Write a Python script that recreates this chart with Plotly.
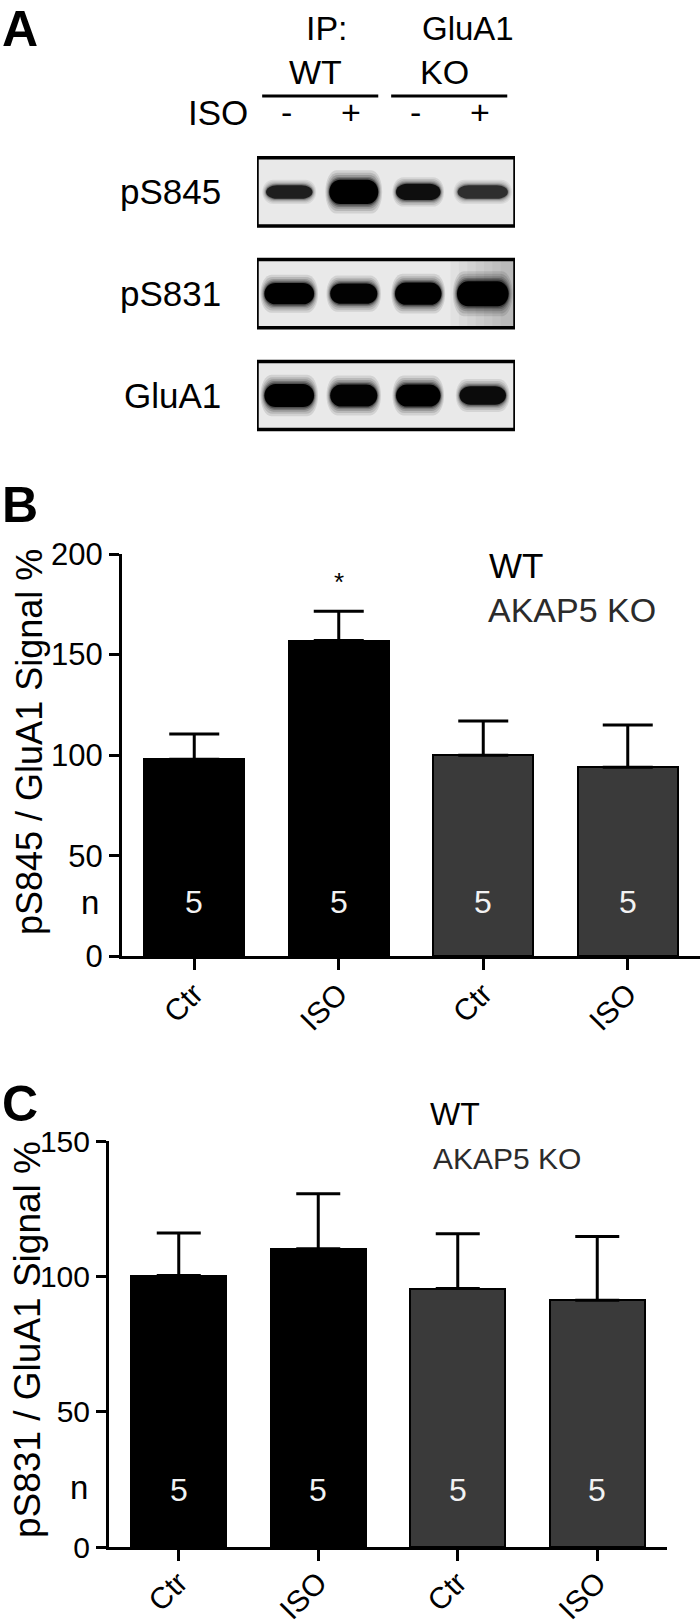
import plotly.graph_objects as go

W, H = 700, 1624

# ---------------- data ----------------
categories = ["Ctr", "ISO", "Ctr", "ISO"]
genotype = ["WT", "WT", "AKAP5 KO", "AKAP5 KO"]
b_mean = [98.0, 157.0, 100.0, 94.0]      # pS845 / GluA1 %
b_sem = [12.5, 14.5, 17.0, 21.0]
c_mean = [100.3, 110.2, 95.5, 91.2]      # pS831 / GluA1 %
c_sem = [15.7, 20.3, 20.2, 23.5]
n_vals = [5, 5, 5, 5]
b_sig = ["", "*", "", ""]
b_ticks = [0, 50, 100, 150, 200]
c_ticks = [0, 50, 100, 150]

# western blot (panel A)
blot_rows = ["pS845", "pS831", "GluA1"]
lane_iso = ["-", "+", "-", "+"]
lane_groups = ["WT", "KO"]
band_intensity = [[0.72, 1.00, 0.85, 0.62],
                  [1.00, 0.97, 1.00, 1.00],
                  [1.00, 0.97, 1.00, 0.88]]
band_width = [[0.72, 0.76, 0.69, 0.78],
              [0.77, 0.73, 0.72, 0.80],
              [0.77, 0.73, 0.69, 0.72]]
band_height = [[0.14, 0.25, 0.17, 0.14],
               [0.22, 0.21, 0.23, 0.26],
               [0.24, 0.23, 0.23, 0.19]]

FONT = "Liberation Sans, Arial, sans-serif"
WT_COL = "#000000"
KO_COL = "#3a3a3a"
bar_colors = [WT_COL if g == "WT" else KO_COL for g in genotype]
xs = list(range(len(categories)))


def px(x):
    return x / W


def py(y):
    return 1 - y / H


fig = go.Figure()

# ---------------- panel B ----------------
fig.add_trace(go.Bar(
    x=xs, y=b_mean, width=0.69, xaxis="x", yaxis="y",
    marker=dict(color=bar_colors, line=dict(color="black", width=2)),
    error_y=dict(type="data", array=b_sem, arrayminus=[0] * 4, symmetric=False,
                 color="black", thickness=3, width=25),
    showlegend=False, hoverinfo="skip"))

# ---------------- panel C ----------------
fig.add_trace(go.Bar(
    x=xs, y=c_mean, width=0.68, xaxis="x2", yaxis="y2",
    marker=dict(color=bar_colors, line=dict(color="black", width=2)),
    error_y=dict(type="data", array=c_sem, arrayminus=[0] * 4, symmetric=False,
                 color="black", thickness=3, width=22),
    showlegend=False, hoverinfo="skip"))

# invisible trace to activate blot axes
fig.add_trace(go.Scatter(x=[0.5, 4.5], y=[-0.5, 2.5], mode="markers",
                         marker=dict(opacity=0), xaxis="x3", yaxis="y3",
                         showlegend=False, hoverinfo="skip"))

shapes = []
annotations = []

# ---------------- blots ----------------
BOX_HALF = 0.335


def band_path(xc, yc, w, h, r):
    x0, x1 = xc - w / 2, xc + w / 2
    y0, y1 = yc - h / 2, yc + h / 2
    k = 0.552
    hh = h / 2
    return (f"M{x0 + r},{y0} L{x1 - r},{y0} "
            f"C{x1 - r + k * r},{y0} {x1},{yc - k * hh} {x1},{yc} "
            f"C{x1},{yc + k * hh} {x1 - r + k * r},{y1} {x1 - r},{y1} "
            f"L{x0 + r},{y1} "
            f"C{x0 + r - k * r},{y1} {x0},{yc + k * hh} {x0},{yc} "
            f"C{x0},{yc - k * hh} {x0 + r - k * r},{y0} {x0 + r},{y0} Z")


BLUR = [(1.16, 1.7, 0.10), (1.12, 1.5, 0.12), (1.08, 1.32, 0.16),
        (1.05, 1.18, 0.22), (1.02, 1.07, 0.35), (1.0, 0.95, 1.0)]

for ri, row in enumerate(blot_rows):
    shapes.append(dict(type="rect", xref="x3", yref="y3", x0=0.5, x1=4.5,
                       y0=ri - BOX_HALF, y1=ri + BOX_HALF,
                       fillcolor="#e9e9e9", line=dict(width=0), layer="above"))
    if ri == 1:
        # dark smear on the right of the pS831 blot
        for s in range(7):
            shapes.append(dict(type="rect", xref="x3", yref="y3",
                               x0=3.5 + s * 0.13, x1=4.5,
                               y0=ri - BOX_HALF, y1=ri + BOX_HALF,
                               fillcolor="#404040", opacity=0.045,
                               line=dict(width=0), layer="above"))
    for li in range(4):
        inten = band_intensity[ri][li]
        w = band_width[ri][li]
        h = band_height[ri][li]
        xc = li + 1
        for sw, sh, a in BLUR:
            shapes.append(dict(type="path", xref="x3", yref="y3",
                               path=band_path(xc, ri, w * sw, h * sh, 0.17),
                               fillcolor="black", opacity=min(1, inten * a),
                               line=dict(width=0), layer="above"))
    shapes.append(dict(type="rect", xref="x3", yref="y3", x0=0.5, x1=4.5,
                       y0=ri - BOX_HALF, y1=ri + BOX_HALF,
                       fillcolor="rgba(0,0,0,0)", line=dict(color="black", width=3.5),
                       layer="above"))
    annotations.append(dict(x=px(223), y=ri, xref="paper", yref="y3", text=row,
                            showarrow=False, xanchor="right", yanchor="middle",
                            font=dict(family=FONT, size=35, color="black")))

# lane headers
for li, s in enumerate(lane_iso):
    annotations.append(dict(x=li + 1 - 0.05, y=py(112), xref="x3", yref="paper", text=s,
                            showarrow=False, xanchor="center", yanchor="middle",
                            font=dict(family=FONT, size=34, color="black")))
annotations.append(dict(x=px(250), y=py(112), xref="paper", yref="paper", text="ISO",
                        showarrow=False, xanchor="right", yanchor="middle",
                        font=dict(family=FONT, size=35, color="black")))
for gi, g in enumerate(lane_groups):
    lo, hi = gi * 2 + 1, gi * 2 + 2
    shapes.append(dict(type="line", xref="x3", yref="paper",
                       x0=lo - 0.42, x1=hi + 0.38, y0=py(96), y1=py(96),
                       line=dict(color="black", width=3)))
    annotations.append(dict(x=(lo + hi) / 2 - 0.1, y=py(72), xref="x3", yref="paper",
                            text=g, showarrow=False, xanchor="center", yanchor="middle",
                            font=dict(family=FONT, size=34, color="black")))
annotations.append(dict(x=px(327), y=py(28), xref="paper", yref="paper", text="IP:",
                        showarrow=False, xanchor="center", yanchor="middle",
                        font=dict(family=FONT, size=34, color="black")))
annotations.append(dict(x=px(468), y=py(28), xref="paper", yref="paper", text="GluA1",
                        showarrow=False, xanchor="center", yanchor="middle",
                        font=dict(family=FONT, size=33, color="black")))

# panel letters
for letter, yy in [("A", 29), ("B", 505), ("C", 1104)]:
    annotations.append(dict(x=0, y=py(yy), xref="paper", yref="paper",
                            text=f"<b>{letter}</b>", showarrow=False,
                            xanchor="left", yanchor="middle",
                            font=dict(family=FONT, size=50, color="black")))

# ---------------- B annotations ----------------
annotations.append(dict(x=px(29), y=py(742), xref="paper", yref="paper",
                        text="pS845 / GluA1 Signal %", textangle=-90, showarrow=False,
                        xanchor="center", yanchor="middle",
                        font=dict(family=FONT, size=36, color="black")))
annotations.append(dict(x=px(487), y=py(565), xref="paper", yref="paper", text="WT",
                        showarrow=False, xanchor="left", yanchor="middle",
                        font=dict(family=FONT, size=35, color=WT_COL)))
annotations.append(dict(x=px(486), y=py(610), xref="paper", yref="paper", text="AKAP5 KO",
                        showarrow=False, xanchor="left", yanchor="middle",
                        font=dict(family=FONT, size=34, color="#2b2b2b")))
for i, s in enumerate(b_sig):
    if s:
        annotations.append(dict(x=xs[i], y=b_mean[i] + b_sem[i], xref="x", yref="y",
                                text=s, showarrow=False, xanchor="center",
                                yanchor="bottom", yshift=12,
                                font=dict(family=FONT, size=26, color="black")))
annotations.append(dict(x=px(90), y=27, xref="paper", yref="y", text="n",
                        showarrow=False, xanchor="center", yanchor="middle",
                        font=dict(family=FONT, size=33, color="black")))
for i, n in enumerate(n_vals):
    annotations.append(dict(x=xs[i], y=27, xref="x", yref="y", text=str(n),
                            showarrow=False, xanchor="center", yanchor="middle",
                            font=dict(family=FONT, size=32, color="#f2f2f2")))

# ---------------- C annotations ----------------
annotations.append(dict(x=px(27), y=py(1340), xref="paper", yref="paper",
                        text="pS831 / GluA1 Signal %", textangle=-90, showarrow=False,
                        xanchor="center", yanchor="middle",
                        font=dict(family=FONT, size=37, color="black")))
annotations.append(dict(x=px(428), y=py(1114), xref="paper", yref="paper", text="WT",
                        showarrow=False, xanchor="left", yanchor="middle",
                        font=dict(family=FONT, size=32, color=WT_COL)))
annotations.append(dict(x=px(431), y=py(1158), xref="paper", yref="paper", text="AKAP5 KO",
                        showarrow=False, xanchor="left", yanchor="middle",
                        font=dict(family=FONT, size=30, color="#2b2b2b")))
annotations.append(dict(x=px(79), y=22, xref="paper", yref="y2", text="n",
                        showarrow=False, xanchor="center", yanchor="middle",
                        font=dict(family=FONT, size=33, color="black")))
for i, n in enumerate(n_vals):
    annotations.append(dict(x=xs[i], y=21, xref="x2", yref="y2", text=str(n),
                            showarrow=False, xanchor="center", yanchor="middle",
                            font=dict(family=FONT, size=32, color="#f2f2f2")))

axis_common = dict(showline=True, linecolor="black", linewidth=3, showgrid=False,
                   zeroline=False, ticks="outside", tickcolor="black", tickwidth=3,
                   fixedrange=True, automargin=False)

fig.update_layout(
    width=W, height=H,
    margin=dict(l=0, r=0, t=0, b=0, pad=0, autoexpand=False),
    paper_bgcolor="white", plot_bgcolor="white",
    bargap=0, showlegend=False,
    xaxis=dict(domain=[px(122), px(700)], range=[-0.5, 3.5], anchor="y",
               tickvals=xs, ticktext=categories, tickangle=-45, ticklen=11,
               ticklabelstandoff=-6,
               tickfont=dict(family=FONT, size=30, color="black"), **axis_common),
    yaxis=dict(domain=[py(956.4), py(554)], range=[0, 200], anchor="x",
               tickvals=b_ticks, ticklen=10,
               tickfont=dict(family=FONT, size=31, color="black"), **axis_common),
    xaxis2=dict(domain=[px(109), px(667)], range=[-0.5, 3.5], anchor="y2",
                tickvals=xs, ticktext=categories, tickangle=-45, ticklen=11,
                ticklabelstandoff=-8,
                tickfont=dict(family=FONT, size=30, color="black"), **axis_common),
    yaxis2=dict(domain=[py(1547), py(1141)], range=[0, 150], anchor="x2",
                tickvals=c_ticks, ticklen=10,
                tickfont=dict(family=FONT, size=30, color="black"), **axis_common),
    xaxis3=dict(domain=[px(257), px(515)], range=[0.5, 4.5], anchor="y3",
                visible=False, fixedrange=True, automargin=False),
    yaxis3=dict(domain=[py(446.4), py(141)], range=[2.5, -0.5], anchor="x3",
                visible=False, fixedrange=True, automargin=False),
    shapes=shapes, annotations=annotations,
)

fig.write_html("out.html", config={"displayModeBar": False},
               post_script="document.body.style.margin='0';document.body.style.overflow='hidden';")
